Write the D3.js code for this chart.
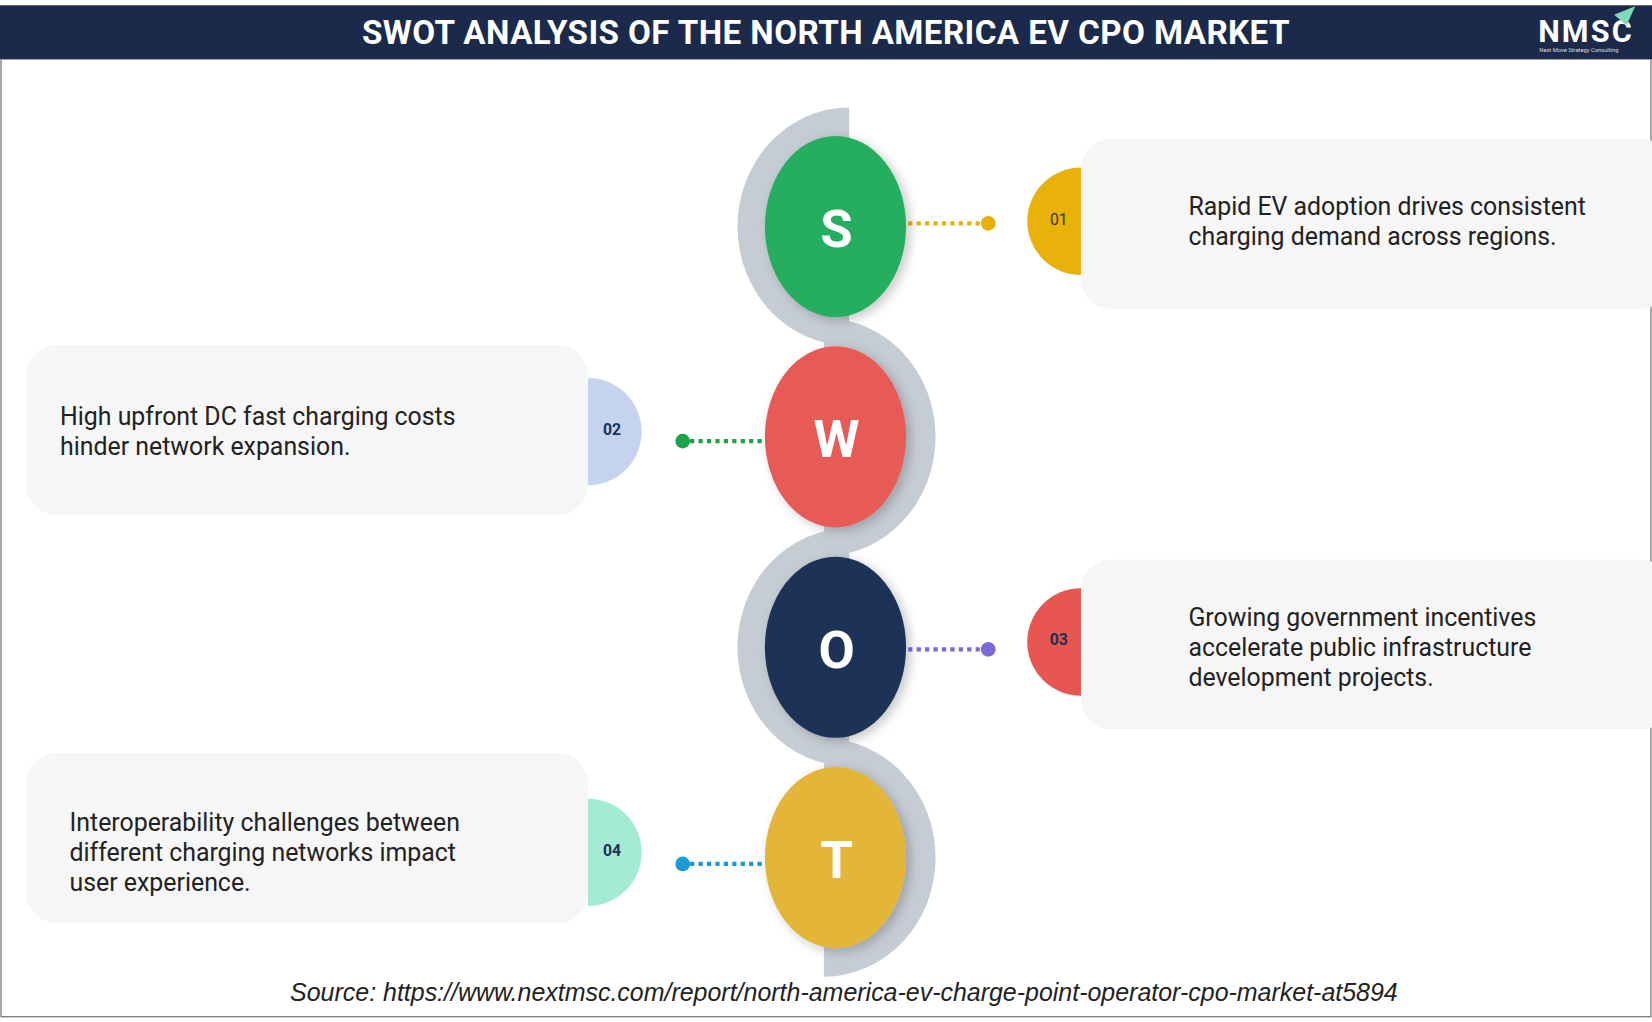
<!DOCTYPE html>
<html><head><meta charset="utf-8">
<script src="https://cdn.jsdelivr.net/npm/d3@7"></script>
<style>body{margin:0;background:#fff}svg{display:block;font-family:Roboto,Arial,sans-serif}</style>
</head><body>
<svg id="chart" width="1652" height="1022" viewBox="0 0 1568 970"></svg>
<script>
// SWOT items
var letters = ["S", "W", "O", "T"];
var numbers = ["01", "02", "03", "04"];
var circleColors = ["#27ae60", "#e85a56", "#1d3057", "#e3b538"];
var dotColors = ["#e8b007", "#1aa34a", "#7b68d9", "#1a9ad6"];
var badgeColors = ["#e9b20a", "#c4d3ee", "#e75651", "#a3ebd5"];
var badgeText = ["#333", "#1d3057", "#1d3057", "#1d3057"];
var sides = ["right", "left", "right", "left"];
var texts = [
  ["Rapid EV adoption drives consistent", "charging demand across regions."],
  ["High upfront DC fast charging costs", "hinder network expansion."],
  ["Growing government incentives", "accelerate public infrastructure", "development projects."],
  ["Interoperability challenges between", "different charging networks impact", "user experience."]
];
// small per-item nudges (box, text, connector)
var boxShift = [0, -4, 0, -16];
var textShift = [0, 0, 5, 0];
var lineShift = [-3, 4, 2, 6];

var svg = d3.select("#chart");
var y = d3.scalePoint().domain(letters).range([215, 814]);
var cx = 793;

svg.append("rect").attr("x", 1).attr("y", 56).attr("width", 1566).attr("height", 909)
  .attr("fill", "#fff").attr("stroke", "#777").attr("stroke-width", 1.2);
svg.append("rect").attr("x", 0).attr("y", 5).attr("width", 1568).attr("height", 51).attr("fill", "#1b2a4a");
svg.append("text").attr("x", 784).attr("y", 42).attr("text-anchor", "middle")
  .attr("fill", "#fff").attr("font-size", 31.5).attr("font-weight", "bold").attr("letter-spacing", 0.4)
  .text("SWOT ANALYSIS OF THE NORTH AMERICA EV CPO MARKET");
// logo
svg.append("text").attr("x", 1460).attr("y", 40).attr("fill", "#fff").attr("font-size", 29)
  .attr("font-weight", "bold").attr("letter-spacing", 2).text("NMSC");
svg.append("path").attr("d", "M1532,14 L1552,6 L1544,24 Z").attr("fill", "#7fd8b8");
svg.append("text").attr("x", 1461).attr("y", 49).attr("fill", "#ddd").attr("font-size", 5.5)
  .text("Next Move Strategy Consulting");

var defs = svg.append("defs");
var f = defs.append("filter").attr("id", "sh").attr("x", "-30%").attr("y", "-30%").attr("width", "160%").attr("height", "160%");
f.append("feDropShadow").attr("dx", 4).attr("dy", 3).attr("stdDeviation", 5).attr("flood-color", "#000").attr("flood-opacity", 0.22);

// gray snake halves
letters.forEach(function (l, i) {
  var left = sides[i] === "right";
  defs.append("clipPath").attr("id", "c" + i).append("rect")
    .attr("x", left ? 600 : 782).attr("y", y(l) - 120)
    .attr("width", left ? 206 : 220).attr("height", 240);
  svg.append("ellipse").attr("cx", left ? 806 : 782).attr("cy", y(l))
    .attr("rx", 106).attr("ry", 113).attr("fill", "#c6ccd3").attr("clip-path", "url(#c" + i + ")");
});

letters.forEach(function (l, i) {
  var cy = y(l), right = sides[i] === "right";
  svg.append("rect").attr("x", right ? 1026 : 25).attr("y", cy - 83 + boxShift[i])
    .attr("width", right ? 560 : 533).attr("height", 161).attr("rx", 28).attr("fill", "#f6f6f6");
  var bx = right ? 1026 : 558;
  var r = 51;
  var path = right
    ? "M" + bx + "," + (cy - 5 - r) + " A" + r + "," + r + " 0 0 0 " + bx + "," + (cy - 5 + r) + " Z"
    : "M" + bx + "," + (cy - 5 - r) + " A" + r + "," + r + " 0 0 1 " + bx + "," + (cy - 5 + r) + " Z";
  svg.append("path").attr("d", path).attr("fill", badgeColors[i]);
  svg.append("text").attr("x", right ? 1005 : 581).attr("y", cy - 7).attr("dy", "0.35em")
    .attr("text-anchor", "middle").attr("font-size", 15).attr("font-weight", i ? "bold" : "normal")
    .attr("fill", badgeText[i]).text(numbers[i]);
  var ly = cy + lineShift[i];
  var x1 = right ? 862 : 655, x2 = right ? 933 : 726, dx = right ? 938 : 648;
  svg.append("line").attr("x1", x1).attr("x2", x2).attr("y1", ly).attr("y2", ly)
    .attr("stroke", dotColors[i]).attr("stroke-width", 4).attr("stroke-dasharray", "4,4");
  svg.append("circle").attr("cx", dx).attr("cy", ly).attr("r", 7).attr("fill", dotColors[i]);
  svg.append("ellipse").attr("cx", cx).attr("cy", cy).attr("rx", 67).attr("ry", 86)
    .attr("fill", circleColors[i]).attr("filter", "url(#sh)");
  svg.append("text").attr("x", cx + 1).attr("y", cy + 2).attr("dy", "0.35em").attr("text-anchor", "middle")
    .attr("fill", "#fff").attr("font-size", 50).attr("font-weight", "bold").text(l);
  var tx = right ? 1128 : (texts[i].length > 2 ? 66 : 57);
  var n = texts[i].length;
  texts[i].forEach(function (t, j) {
    svg.append("text").attr("x", tx).attr("y", cy - 5 + textShift[i] + (j - (n - 1) / 2) * 28.5).attr("dy", "0.35em")
      .attr("font-size", 23.6).attr("fill", "#222").text(t);
  });
});

svg.append("text").attr("x", 801).attr("y", 950).attr("text-anchor", "middle")
  .attr("font-size", 23.7).attr("font-style", "italic").attr("fill", "#222")
  .style("font-family", "'Liberation Sans',Arial,sans-serif")
  .text("Source: https://www.nextmsc.com/report/north-america-ev-charge-point-operator-cpo-market-at5894");
</script>
</body></html>
